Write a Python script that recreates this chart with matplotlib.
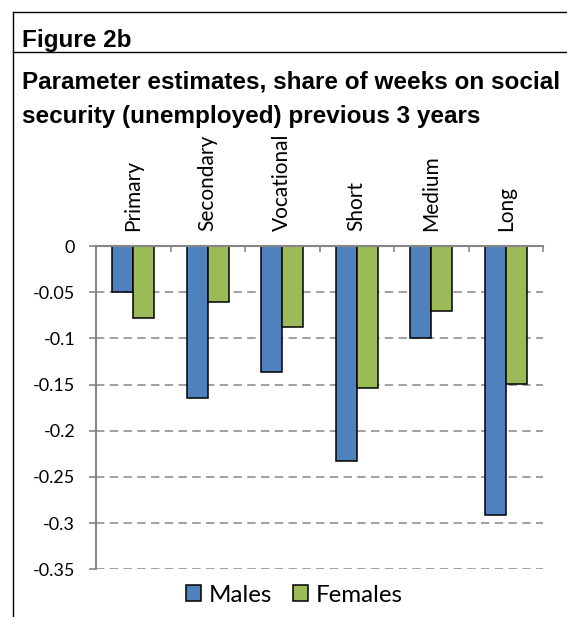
import numpy as np
import matplotlib.pyplot as plt
from matplotlib.lines import Line2D

categories = ['Primary', 'Secondary', 'Vocational', 'Short', 'Medium', 'Long']
males = [-0.050, -0.165, -0.136, -0.233, -0.100, -0.291]
females = [-0.078, -0.061, -0.088, -0.154, -0.070, -0.149]
y_ticks = [0, -0.05, -0.1, -0.15, -0.2, -0.25, -0.3, -0.35]
y_labels = ['0', '-0.05', '-0.1', '-0.15', '-0.2', '-0.25', '-0.3', '-0.35']

plt.rcParams['font.family'] = ['Lato', 'DejaVu Sans']

W, H = 567, 617
fig = plt.figure(figsize=(W / 100, H / 100), dpi=100)

# frame lines around the figure header
def hline(y, x0, x1):
    fig.add_artist(Line2D([x0 / W, x1 / W], [1 - y / H, 1 - y / H], color='black', lw=1.0))

def vline(x, y0, y1):
    fig.add_artist(Line2D([x / W, x / W], [1 - y0 / H, 1 - y1 / H], color='black', lw=1.0))

hline(12, 12.5, W)
hline(52, 12.5, W)
vline(12.5, 12, H)

title_kw = dict(family='Liberation Sans', weight='bold', fontsize=17.5, va='baseline', ha='left')
fig.text(22 / W, 1 - 46.5 / H, 'Figure 2b', **title_kw)
fig.text(22 / W, 1 - 88 / H, 'Parameter estimates, share of weeks on social', **title_kw)
fig.text(22 / W, 1 - 123 / H, 'security (unemployed) previous 3 years', **title_kw)

ax = fig.add_axes([96 / W, 1 - 569.3 / H, (543 - 96) / W, (569.3 - 246) / H])

x = np.arange(len(categories))
width = 0.285
ax.bar(x - width / 2, males, width, color='#4F81BD', edgecolor='black', linewidth=1.1,
       label='Males', zorder=3)
ax.bar(x + width / 2, females, width, color='#9BBB59', edgecolor='black', linewidth=1.1,
       label='Females', zorder=3)

ax.set_xlim(-0.5, len(categories) - 0.5)
ax.set_ylim(-0.35, 0)

grey = '#868686'
for s in ['right', 'bottom']:
    ax.spines[s].set_visible(False)
ax.spines['left'].set_color(grey)
ax.spines['left'].set_linewidth(1.5)
ax.spines['top'].set_color(grey)
ax.spines['top'].set_linewidth(1.5)
ax.spines['top'].set_zorder(4)

# category labels above the zero line
ax.xaxis.tick_top()
ax.set_xticks(x)
ax.set_xticklabels(categories, rotation=90, fontsize=15)
ax.tick_params(axis='x', which='major', length=0, pad=11)
ax.set_xticks(np.arange(len(categories) + 1) - 0.5, minor=True)
ax.tick_params(axis='x', which='minor', direction='in', length=4.5, width=1.2, color=grey)

ax.set_yticks(y_ticks)
ax.set_yticklabels(y_labels, fontsize=13)
ax.tick_params(axis='y', direction='out', length=5, width=1.2, color=grey, pad=10)

ax.yaxis.grid(True, color=grey, linewidth=1.1, linestyle=(0, (5.5, 3.5)), zorder=0)
ax.set_axisbelow(True)

fig.legend(loc='center', bbox_to_anchor=(294.5 / W, 1 - 595 / H), ncol=2, frameon=False,
           fontsize=17.4, handlelength=0.62, handleheight=0.62, handletextpad=0.33,
           columnspacing=0.87, borderaxespad=0)

fig.savefig('out.png', dpi=100)
